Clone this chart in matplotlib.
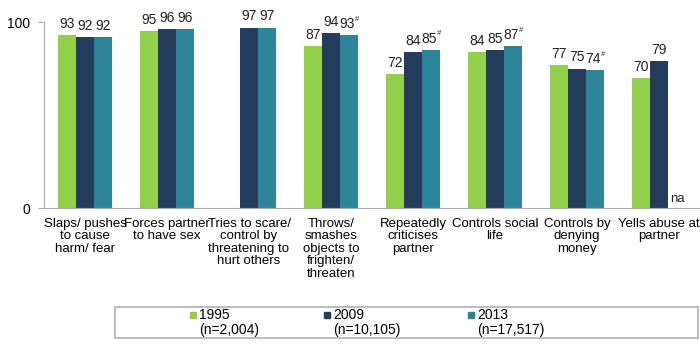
import numpy as np
import matplotlib.pyplot as plt
from matplotlib.patches import Rectangle

plt.rcParams['font.family'] = ['Liberation Sans', 'DejaVu Sans']

# Data
categories = ["Slaps/ pushes\nto cause\nharm/ fear", "Forces partner\nto have sex",
              "Tries to scare/\ncontrol by\nthreatening to\nhurt others",
              "Throws/\nsmashes\nobjects to\nfrighten/\nthreaten",
              "Repeatedly\ncriticises\npartner", "Controls social\nlife",
              "Controls by\ndenying\nmoney", "Yells abuse at\npartner"]
v1995 = [93, 95, np.nan, 87, 72, 84, 77, 70]
v2009 = [92, 96, 97, 94, 84, 85, 75, 79]
v2013 = [92, 96, 97, 93, 85, 87, 74, np.nan]
hash2013 = [False, False, False, True, True, True, True, False]

series = [("1995", "(n=2,004)", v1995, "#92cf4a"),
          ("2009", "(n=10,105)", v2009, "#253d5c"),
          ("2013", "(n=17,517)", v2013, "#2e8499")]

fig = plt.figure(figsize=(7, 3.5), dpi=100)
ax = fig.add_axes([44/700, 1-208/350, 1-44/700, 186/350])

x = np.arange(len(categories))
w = 0.22
for k, (yr, n, vals, col) in enumerate(series):
    pos = x + (k - 1) * w
    ax.bar(pos, vals, width=w, color=col, zorder=2)
    for i, v in enumerate(vals):
        if np.isnan(v):
            continue
        has_hash = yr == "2013" and hash2013[i]
        dx = -1.5 if has_hash else 0
        ax.annotate(str(int(v)), (pos[i], v), xytext=(dx, 3), textcoords="offset points",
                    ha="center", va="bottom", fontsize=10, color="#222222",
                    annotation_clip=False)
        if has_hash:
            ax.annotate("#", (pos[i], v), xytext=(4.5, 9), textcoords="offset points",
                        ha="left", va="bottom", fontsize=5.5, color="#222222",
                        annotation_clip=False)

# na for 2013 in last group
ax.text(x[-1] + w, 1.5, "na", ha="center", va="bottom", fontsize=9.5, color="#222222")

ax.set_xlim(-0.5, len(categories) - 0.5)
ax.set_ylim(0, 100)
ax.set_yticks([0, 100])
ax.set_xticks(x)
ax.set_xticklabels(categories, fontsize=9.5, linespacing=1.05, va="top")
ax.tick_params(axis="x", length=0, pad=7)
ax.tick_params(axis="y", length=4, color="#aaaaaa", labelsize=10, pad=6)
for s in ["top", "right"]:
    ax.spines[s].set_visible(False)
ax.spines["left"].set_color("#aaaaaa")
ax.spines["bottom"].set_color("#aaaaaa")

# legend box
fig.patches.append(Rectangle((115/700, 1-338/350), 583/700, 31/350, transform=fig.transFigure,
                             fill=False, edgecolor="#b0b0b0", lw=1.2))
lx = [193, 327, 471]
for (yr, n, vals, col), px in zip(series, lx):
    fig.patches.append(Rectangle(((px-3)/700, 1-318/350), 6/700, 6/350,
                                 transform=fig.transFigure, color=col))
    fig.text((px+6)/700, 1-315/350, yr, ha="left", va="center", fontsize=10)
    fig.text((px+6)/700, 1-330/350, n, ha="left", va="center", fontsize=10)

fig.savefig("out.png", dpi=100)
